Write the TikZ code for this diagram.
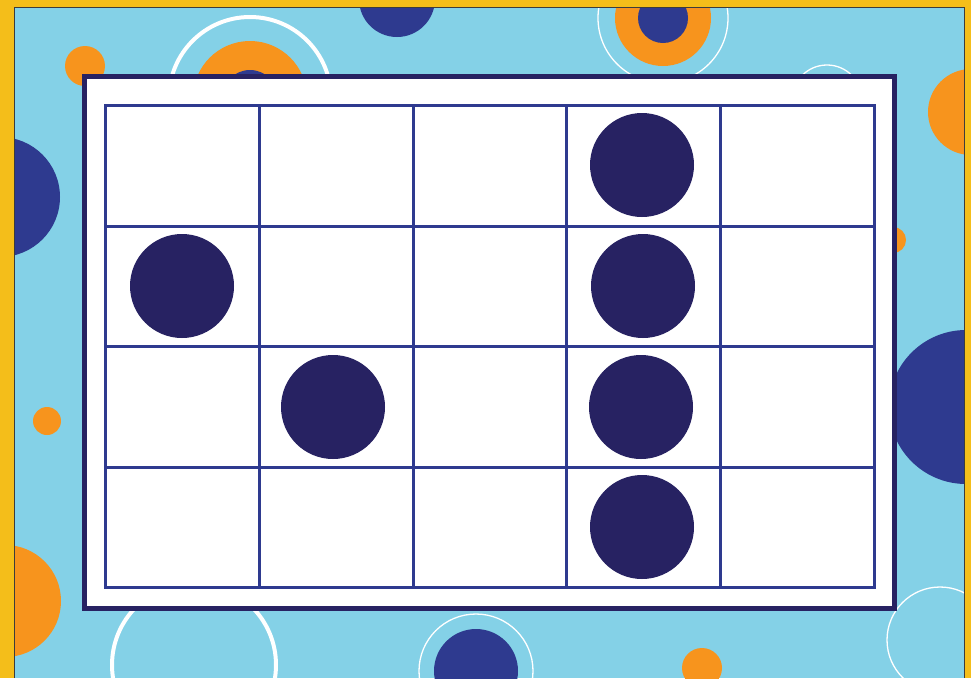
\documentclass[tikz,border=0pt]{standalone}
\begin{document}
\begin{tikzpicture}[x=1pt,y=-1pt,
  bgfill/.style={fill=bgblue},
  orangec/.style={fill=corange},
  navyc/.style={fill=cnavy},
  thickring/.style={draw=white,line width=4},
  thinring/.style={draw=white,line width=1.3},
  dot/.style={fill=dotnavy},
  gridline/.style={draw=gridblue,line width=3},
]
\definecolor{bgblue}{HTML}{84D1E7}
\definecolor{corange}{HTML}{F7941D}
\definecolor{cnavy}{HTML}{2E3A8F}
\definecolor{dotnavy}{HTML}{272262}
\definecolor{gridblue}{HTML}{2E3A8F}
\definecolor{cyellow}{HTML}{F4BE1A}
\definecolor{edgegrey}{HTML}{3C3C3C}
\useasboundingbox (0,0) rectangle (971,678);
\begin{scope}
\clip (0,0) rectangle (971,678);
\fill[bgfill] (0,0) rectangle (971,678);
% background circles
\fill[orangec] (85,66) circle (20);
\draw[thickring] (250,98) circle (81);
\fill[orangec] (250,98) circle (57);
\fill[navyc] (250,98) circle (28);
\fill[navyc] (397,-1) circle (38);
\draw[thinring] (663,18) circle (65);
\fill[orangec] (663,18) circle (48);
\fill[navyc] (663,18) circle (25);
\draw[thinring] (827,100) circle (35);
\fill[orangec] (971,112) circle (43);
\fill[orangec] (893,240) circle (13);
\fill[navyc] (966,407) circle (77);
\draw[thinring] (940,640) circle (53);
\draw[thinring] (476,671) circle (57);
\fill[navyc] (476,671) circle (42);
\fill[orangec] (702,668) circle (20);
\draw[thickring] (194,665) circle (82);
\fill[orangec] (5,601) circle (56);
\fill[navyc] (0,197) circle (60);
\fill[orangec] (47,421) circle (14);
% yellow frame
\fill[cyellow] (0,0) rectangle (14,678);
\fill[cyellow] (0,0) rectangle (971,7);
\fill[cyellow] (965,0) rectangle (971,678);
\draw[edgegrey,line width=1] (14.5,678) -- (14.5,7.5) -- (964.5,7.5) -- (964.5,678);
\end{scope}
% panel
\node[draw=dotnavy,fill=white,line width=5,minimum width=810,minimum height=532,inner sep=0,outer sep=0,anchor=north west] (panel) at (84.5,76.5) {};
% grid
\foreach \x in {105,259,413,566,720,874}
  \draw[gridline,line cap=rect] (\x,105) -- (\x,587);
\foreach \y in {105,226,346,467,587}
  \draw[gridline,line cap=rect] (105,\y) -- (874,\y);
% dots
\fill[dot] (642,165) circle (52);
\fill[dot] (182,286) circle (52);
\fill[dot] (643,286) circle (52);
\fill[dot] (333,407) circle (52);
\fill[dot] (641,407) circle (52);
\fill[dot] (642,527) circle (52);
\end{tikzpicture}
\end{document}
